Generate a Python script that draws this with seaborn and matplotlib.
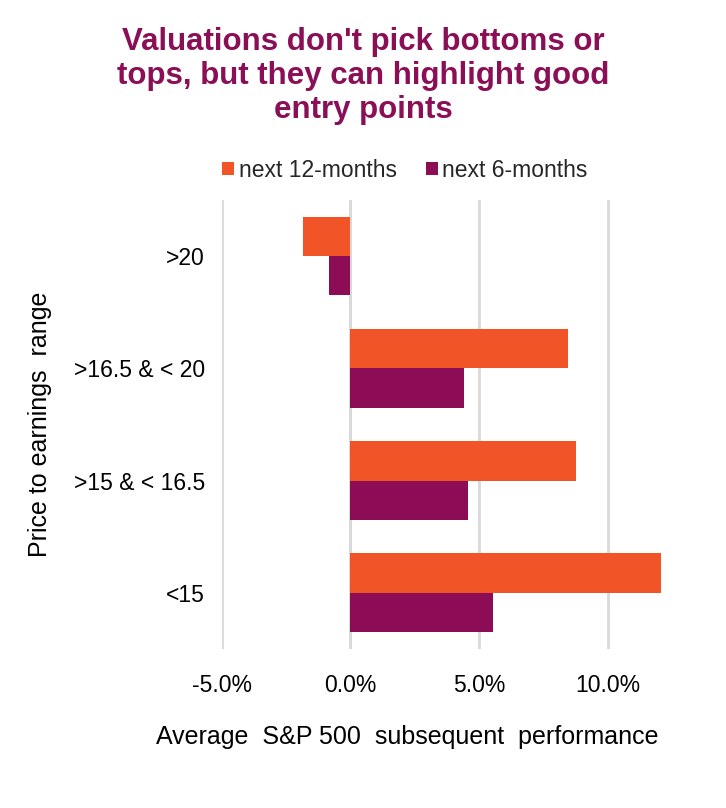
import pandas as pd
import matplotlib.pyplot as plt
import seaborn as sns

# P/E buckets and average subsequent returns (%)
ranges = [">20", ">16.5 & < 20", ">15 & < 16.5", "<15"]
next_12m = [-1.86, 8.45, 8.75, 12.05]
next_6m = [-0.85, 4.4, 4.55, 5.55]

df = pd.DataFrame({
    "range": ranges * 2,
    "period": ["next 12-months"] * 4 + ["next 6-months"] * 4,
    "perf": next_12m + next_6m,
})

sns.set_theme(style="white")
plt.rcParams['font.family'] = ['Liberation Sans', 'DejaVu Sans']

fig = plt.figure(figsize=(7.26, 8.08), dpi=100)
ax = fig.add_axes([0.3054, 0.197, 0.6063, 0.5555])

palette = {"next 12-months": "#F05427", "next 6-months": "#8C0C55"}
sns.barplot(data=df, y="range", x="perf", hue="period", order=ranges,
            hue_order=["next 12-months", "next 6-months"], palette=palette,
            orient="h", width=0.7, linewidth=0, saturation=1, ax=ax)

ax.set_xlim(-5, 12.1)
ax.set_xticks([-5, 0, 5, 10])
ax.set_xticklabels([f"{v:.1f}%" for v in [-5, 0, 5, 10]])
ax.grid(axis="x", color="#D9D9D9", linewidth=2)
ax.set_axisbelow(True)
ax.axvline(0, color="#D9D9D9", linewidth=2, zorder=0)
for s in ax.spines.values():
    s.set_visible(False)
ax.tick_params(axis="both", length=0, labelsize=16.5, labelcolor="black")
ax.tick_params(axis="x", pad=18)
ax.tick_params(axis="y", pad=12)

ax.set_xlabel("Average  S&P 500  subsequent  performance", fontsize=18,
              color="black")
ax.xaxis.set_label_coords(0.421, -0.169)
ax.set_ylabel("Price to earnings  range", fontsize=18, color="black")
ax.yaxis.set_label_coords(-0.386, 0.5)

handles, labels = ax.get_legend_handles_labels()
ax.legend(handles, labels, loc="center", bbox_to_anchor=(0.558, 0.7896),
          bbox_transform=fig.transFigure, ncol=2, frameon=False,
          fontsize=16.5, handlelength=0.5, handleheight=0.5,
          handletextpad=0.2, columnspacing=1.3)

fig.text(0.5, 0.966, "Valuations don't pick bottoms or\ntops, but they can highlight good\nentry points",
         ha="center", va="top", fontsize=22.5, fontweight="bold",
         color="#8B0F56", linespacing=1.17)

fig.savefig("out.png", dpi=100)
